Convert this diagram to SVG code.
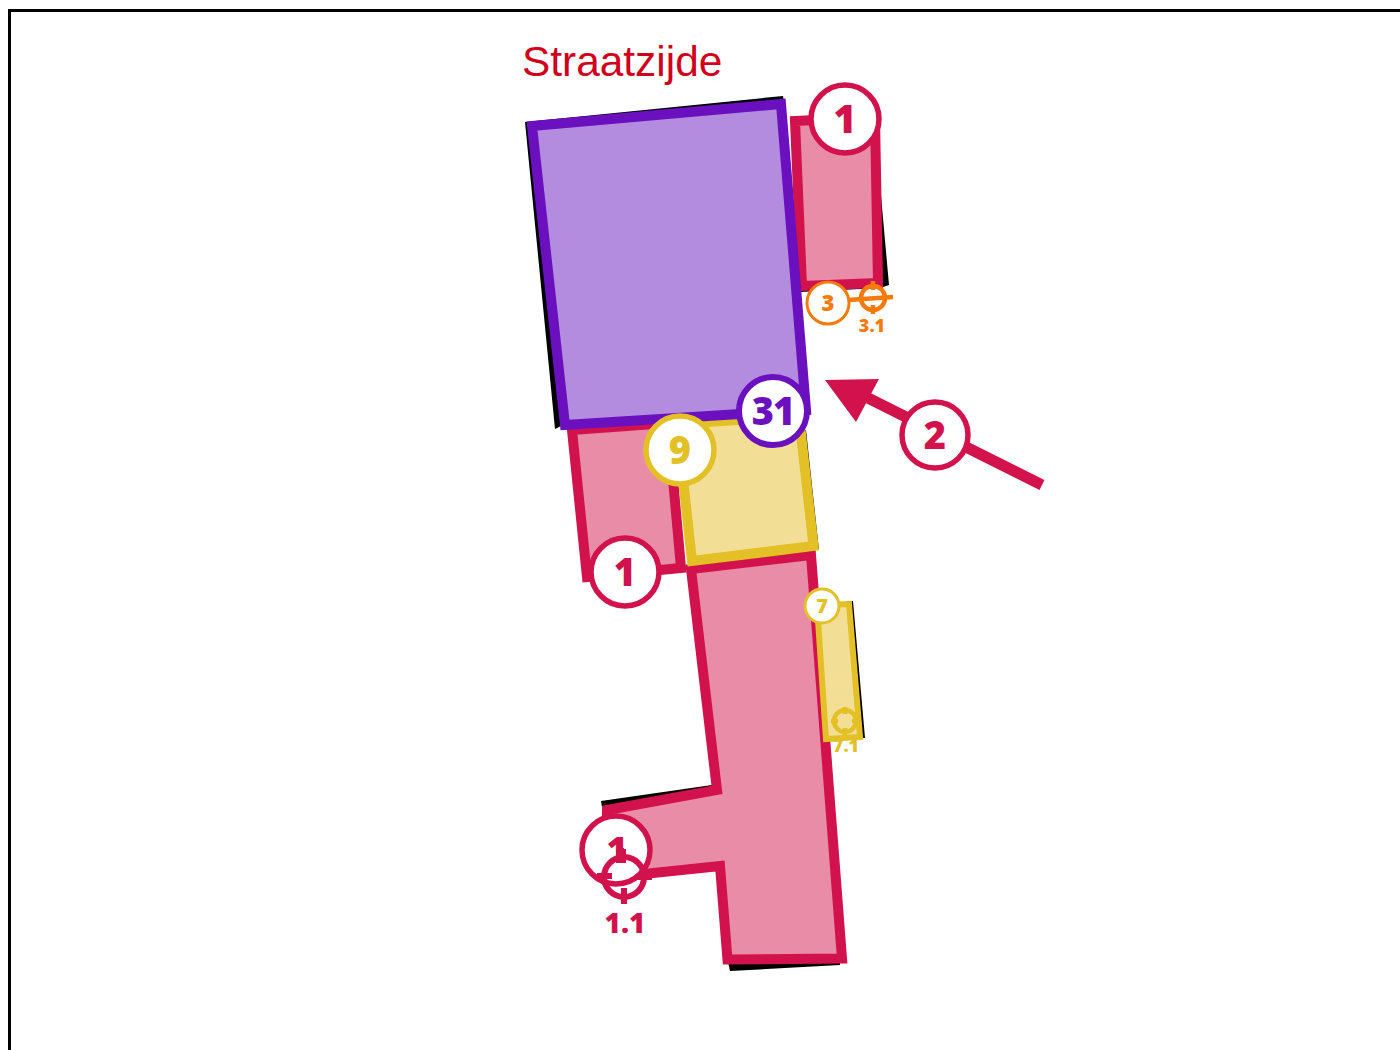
<svg xmlns="http://www.w3.org/2000/svg" width="1400" height="1050" viewBox="0 0 1400 1050">
<style>
.p{fill:#e88ca7;stroke:#d2124d;stroke-width:10;stroke-linejoin:miter}
.y{fill:#f2df95;stroke:#e3c026;stroke-width:10}
.v{fill:#b48cdf;stroke:#6a10bf;stroke-width:10}
.b{fill:#fff;stroke-width:5.5}
.t{font-family:"Open Sans","Noto Sans",sans-serif;font-weight:800;text-anchor:middle}
.cp{stroke:#d2124d}.cy{stroke:#e3c026}.cv{stroke:#6a10bf}.co{stroke:#f57a0a}
.fp{fill:#d2124d}.fy{fill:#e3c026}.fv{fill:#6a10bf}.fo{fill:#f57a0a}
.tg{fill:none}
</style>
<rect id="frame" x="9.5" y="10.5" width="1420" height="1080" fill="#fff" stroke="#000" stroke-width="3"/>
<text id="title" x="522" y="76" font-family="Liberation Sans, Arial, sans-serif" font-size="42.4" fill="#d0021b">Straatzijde</text>
<g id="shadows">
<polygon points="525,122 783,96 785,108 535,127 563,425 555,429"/>
<polygon points="868,140 876,140 889,285 880,288 800,292 800,286"/>
<polygon points="601,801 712,785 714,792 604,818"/>
<polygon points="728,962 840,960 840,965 730,971"/>
<polygon points="847,601 853,601 865,738 860,738"/>
<polygon points="803,430 806,430 819,550 816,550"/>
<polygon points="809,553 812,553 817,600 814,600"/>
</g>
<g id="room-pink-top"><polygon class="p" points="795,121 875,117 878,283 802,286"/></g>
<g id="room-pink-left"><polygon class="p" points="572,430 668,423 681,568 587,577"/></g>
<g id="room-pink-main"><polygon class="p" points="691,569 811,555 842,958.500 727.500,959.500 720,866 606,878 607,810 717,790"/></g>
<g id="room-yellow-big"><polygon class="y" points="677,424 799,416 813.500,546 692,561"/></g>
<g id="room-purple"><polygon class="v" points="532,126 781,104 806,410 565,425"/></g>
<g id="label-7-1"><text class="t fy" x="846" y="752" font-size="18">7.1</text></g>
<g id="room-yellow-small"><polygon class="y" style="stroke-width:6" points="817,605 849,604 860,737 826,739"/></g>
<g id="connectors">
<path d="M1042 485 868 398" fill="none" stroke="#d2124d" stroke-width="11"/>
<polygon class="fp" points="825,380 879,379 856,422"/>
</g>
<g id="badge-1-top"><circle class="b cp" cx="845" cy="119" r="34"/><text class="t fp" x="845" y="133" font-size="39">1</text></g>
<g id="badge-3"><circle class="b co" style="stroke-width:3" cx="828" cy="303" r="21"/><text class="t fo" x="828" y="311" font-size="22">3</text></g>
<g id="target-3-1"><circle class="tg co" stroke-width="4.500" cx="873" cy="298" r="12"/><path class="tg co" stroke-width="4.500" d="M848 300 893 297M873 281V290M873 305V314"/><text class="t fo" x="872" y="332" font-size="18">3.1</text></g>
<g id="badge-2"><circle class="b cp" cx="935" cy="435" r="33"/><text class="t fp" x="935" y="449" font-size="38">2</text></g>
<g id="badge-31"><circle class="b cv" style="stroke-width:6" cx="773" cy="411" r="34"/><text class="t fv" x="773" y="425" font-size="38" letter-spacing="-1">31</text></g>
<g id="badge-9"><circle class="b cy" cx="680" cy="450" r="34"/><text class="t fy" x="680" y="464" font-size="38">9</text></g>
<g id="badge-1-left"><circle class="b cp" cx="625" cy="572" r="34"/><text class="t fp" x="625" y="586" font-size="38">1</text></g>
<g id="badge-7"><circle class="b cy" style="stroke-width:3" cx="822" cy="606" r="17"/><text class="t fy" x="822" y="613" font-size="20">7</text></g>
<g id="target-7-1"><circle class="tg cy" stroke-width="4.500" cx="845" cy="721" r="11"/><path class="tg cy" stroke-width="4.500" d="M831 721H838M852 721H859M845 707V714M845 728V735"/></g>
<g id="badge-1-bottom"><circle class="b cp" cx="616" cy="850" r="34"/><text class="t fp" x="617" y="862" font-size="36">1</text></g>
<g id="target-1-1"><circle class="tg cp" stroke-width="6" cx="624" cy="877" r="20"/><path class="tg cp" stroke-width="6" d="M597 876H612M638 877H652M621 848V863M624 888V904"/><path class="fp" d="M616 849H626V863H616Z"/><text class="t fp" x="625" y="933" font-size="28">1.1</text></g>
</svg>
